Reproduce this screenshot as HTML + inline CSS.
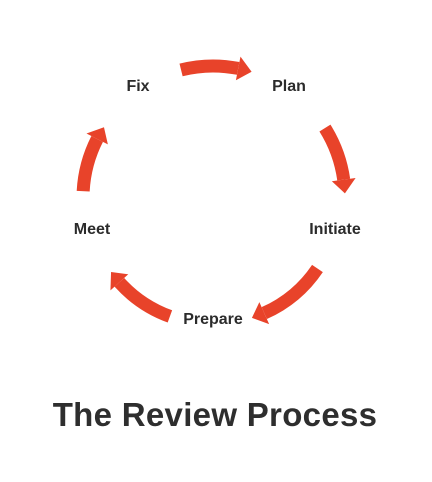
<!DOCTYPE html>
<html><head><meta charset="utf-8"><style>
html,body{margin:0;padding:0;background:#fff;}
body{width:432px;height:482px;overflow:hidden;position:relative;font-family:"Liberation Sans",sans-serif;}
.l{position:absolute;font-weight:bold;font-size:16px;color:#2b2b2b;transform:translate(-50%,-50%);white-space:nowrap;}
.t{position:absolute;left:0;width:430px;text-align:center;top:396px;font-size:33px;font-weight:bold;color:#2e2e2e;letter-spacing:0.3px;}
</style></head><body>
<svg id="s" width="432" height="482" style="position:absolute;left:0;top:0"></svg>
<div class="l" style="left:138px;top:87px">Fix</div>
<div class="l" style="left:289px;top:87px">Plan</div>
<div class="l" style="left:335px;top:230px">Initiate</div>
<div class="l" style="left:213px;top:320px">Prepare</div>
<div class="l" style="left:92px;top:230px">Meet</div>
<div class="t">The Review Process</div>
<script>
var cx=213,cy=198,C="#e8432a",s=document.getElementById('s'),h='';
function arc(a0,a1,r){
 var d=Math.PI/180,x0=cx+r*Math.cos(a0*d),y0=cy+r*Math.sin(a0*d);
 var dir=a1>a0?1:-1,ae=a1-dir*6;
 var x1=cx+r*Math.cos(ae*d),y1=cy+r*Math.sin(ae*d);
 h+='<path d="M'+x0+' '+y0+' A'+r+' '+r+' 0 0 '+(dir>0?1:0)+' '+x1+' '+y1+'" stroke="'+C+'" stroke-width="13" fill="none"/>';
 var tx=cx+r*Math.cos(a1*d),ty=cy+r*Math.sin(a1*d);
 var bx=x1,by=y1,nx=Math.cos(ae*d),ny=Math.sin(ae*d),w=12;
 h+='<polygon fill="'+C+'" points="'+tx+','+ty+' '+(bx+nx*w)+','+(by+ny*w)+' '+(bx-nx*w)+','+(by-ny*w)+'"/>';
}
arc(-104,-73,132);
arc(-32,-2,132);
arc(34,72,126);
arc(110,144,126);
arc(183,213,130);
s.innerHTML=h;
</script>
</body></html>
